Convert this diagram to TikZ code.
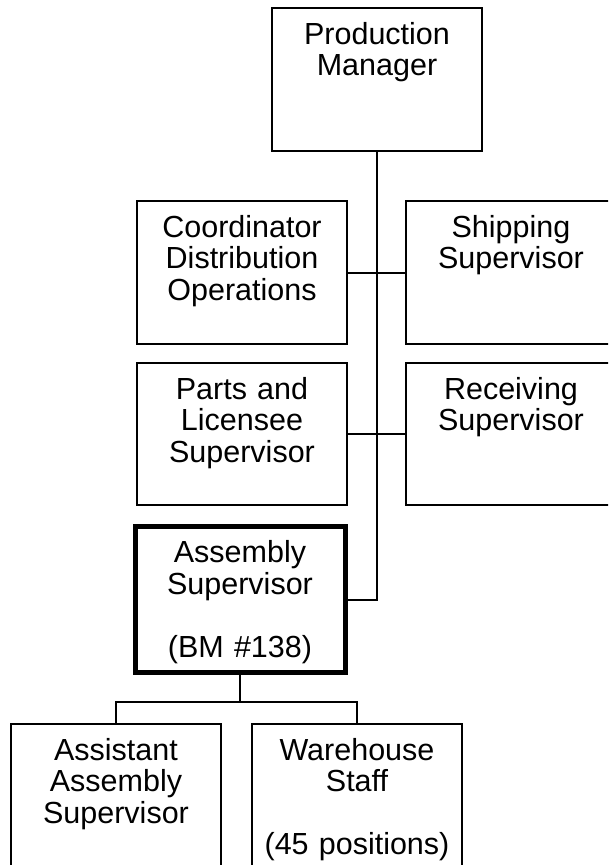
\documentclass[tikz,border=0pt]{standalone}
\usepackage{fontspec}
\setmainfont{Liberation Sans}
\usetikzlibrary{positioning}

\begin{document}
\begin{tikzpicture}[x=1pt, y=-1pt, line width=2pt,
  every node/.style={font=\fontsize{30.5}{31.5}\selectfont},
  orgbox/.style={draw, rectangle, anchor=north, text width=204pt, align=center,
    inner xsep=3pt, inner ysep=9pt, text height=27pt, text depth=#1}]
  \useasboundingbox (0,0) rectangle (608,865);
  \clip (0,0) rectangle (608,865);
  % boxes
  \node[orgbox=98pt] (pm) at (377,7) {Production\\Manager};
  \node[orgbox=98pt] (coord) at (242,200) {Coordinator\\Distribution\\Operations};
  \node[orgbox=98pt] (ship) at (511,200) {Shipping\\Supervisor};
  \node[orgbox=97pt] (parts) at (242,362) {Parts and\\Licensee\\Supervisor};
  \node[orgbox=97pt] (recv) at (511,362) {Receiving\\Supervisor};
  \node[orgbox=101pt, line width=5pt] (asm) at (240,524) {Assembly\\Supervisor\\[31.5pt](BM \#138)};
  \node[orgbox=112pt] (asst) at (116,723) {Assistant\\Assembly\\Supervisor};
  \node[orgbox=112pt] (wh) at (357,723) {Warehouse\\Staff\\[31.5pt](45 positions)};
  % connectors
  \draw (pm.south) |- (asm.east);
  \draw (coord) -- (ship);
  \draw (parts) -- (recv);
  \path (asm.south) ++(0,27) coordinate (fork);
  \draw (asm.south) -- (fork);
  \draw (asst.north) |- (fork) -| (wh.north);
\end{tikzpicture}
\end{document}
